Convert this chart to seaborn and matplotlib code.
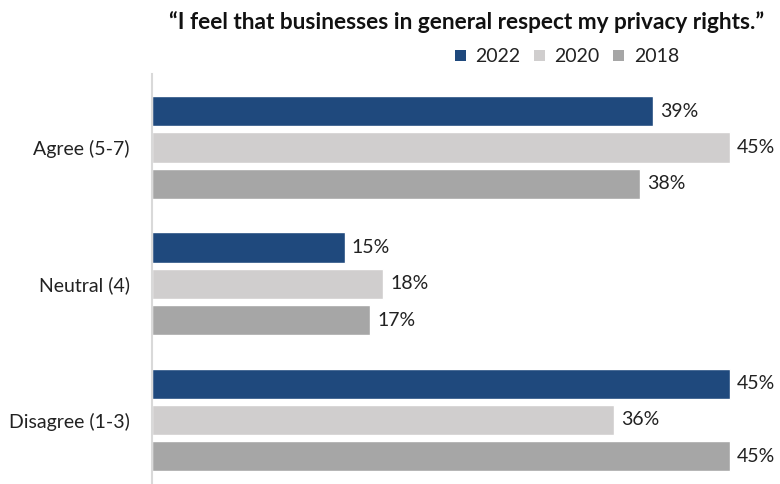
import matplotlib
matplotlib.use("Agg")
import matplotlib.pyplot as plt
import seaborn as sns
import pandas as pd
from matplotlib.patches import Patch

categories = ["Agree (5-7)", "Neutral (4)", "Disagree (1-3)"]
years = ["2022", "2020", "2018"]
values_2022 = [39, 15, 45]
values_2020 = [45, 18, 36]
values_2018 = [38, 17, 45]
colors = ["#1F497D", "#D0CECE", "#A6A6A6"]
title = "\u201cI feel that businesses in general respect my privacy rights.\u201d"

rows = []
for year, vals in zip(years, [values_2022, values_2020, values_2018]):
    for cat, v in zip(categories, vals):
        rows.append({"category": cat, "year": year, "value": v})
df = pd.DataFrame(rows)

sns.set_theme(style="white")
plt.rcParams["font.family"] = ["Lato", "DejaVu Sans"]

fig = plt.figure(figsize=(7.8, 4.84), dpi=100)
ax = fig.add_axes([152 / 780, 0, 1 - 152 / 780, 410 / 484])

sns.barplot(data=df, y="category", x="value", hue="year", order=categories,
            hue_order=years, palette=colors, orient="h", width=0.8, gap=0.17,
            saturation=1, legend=False, ax=ax)

for container in ax.containers:
    ax.bar_label(container, labels=[f"{int(v)}%" for v in container.datavalues],
                 padding=5, fontsize=14, color="#222222")

ax.set_xlim(0, 628 / 12.84)
ax.set_ylim(2.47, -0.54)
ax.set_xlabel("")
ax.set_ylabel("")
ax.set_xticks([])
ax.tick_params(axis="y", length=0, pad=16, labelsize=14, labelcolor="#222222")
for s in ["top", "right", "bottom"]:
    ax.spines[s].set_visible(False)
ax.spines["left"].set_color("#D9D9D9")
ax.spines["left"].set_linewidth(1.5)

fig.text(467 / 780, 1 - 22 / 484, title, ha="center", va="center",
         fontsize=16.3, fontweight="bold", color="#111111")

handles = [Patch(facecolor=c, edgecolor="none") for c in colors]
fig.legend(handles, years, loc="center", bbox_to_anchor=(567 / 780, 1 - 57 / 484),
           ncol=3, frameon=False, fontsize=14, handlelength=0.55, handleheight=0.55,
           handletextpad=0.5, columnspacing=0.7, labelcolor="#222222")

fig.savefig("out.png", dpi=100)
